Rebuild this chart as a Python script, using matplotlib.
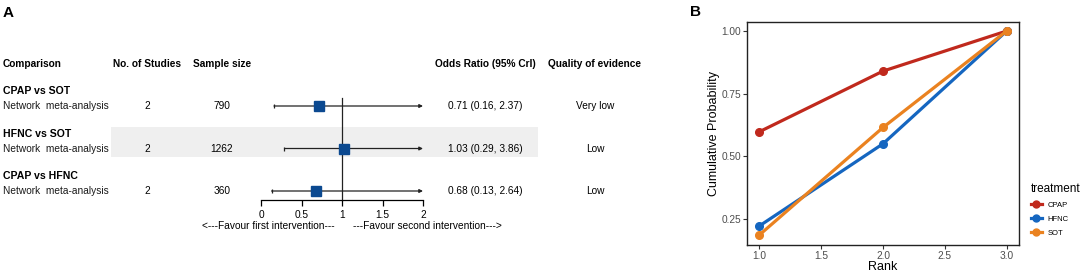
import matplotlib
matplotlib.use("Agg")
import matplotlib.pyplot as plt
from matplotlib.lines import Line2D
from matplotlib.transforms import blended_transform_factory

plt.rcParams['font.family'] = ['Liberation Sans', 'DejaVu Sans']

# panel A data
comparisons = ['CPAP vs SOT', 'HFNC vs SOT', 'CPAP vs HFNC']
n_studies = [2, 2, 2]
sample_size = [790, 1262, 360]
odds = [0.71, 1.03, 0.68]
lower = [0.16, 0.29, 0.13]
upper = [2.37, 3.86, 2.64]
quality = ['Very low', 'Low', 'Low']
or_ticks = [0, 0.5, 1, 1.5, 2]
or_ticklabels = ['0', '0.5', '1', '1.5', '2']

# panel B data
ranks = [1, 2, 3]
cum_prob = {
    'CPAP': [0.598, 0.84, 1.00],
    'HFNC': [0.222, 0.55, 1.00],
    'SOT': [0.186, 0.615, 1.00],
}
colors = {'CPAP': '#C0291D', 'HFNC': '#1566C0', 'SOT': '#EA8220'}

W, H = 1084, 273
fig = plt.figure(figsize=(W / 100, H / 100), dpi=100)

# rows: k=0,1,2 at pixel y 106 + 42.5k
step = 42.5
y0 = 106
ylim = ((H - y0) / step, -y0 / step)

# background axes for panel A (text, band)
ax_bg = fig.add_axes([0, 0, 540 / W, 1])
ax_bg.set_xlim(0, 540)
ax_bg.set_ylim(*ylim)
ax_bg.axis('off')

# forest axes
fx0, fx1 = 261, 423
ax = fig.add_axes([fx0 / W, 0, (fx1 - fx0) / W, 1])
ax.set_xlim(0, 2)
ax.set_ylim(*ylim)
ax.patch.set_alpha(0)

fs = 7.3
hdr_k = -1.0
ax_bg.text(3, hdr_k, 'Comparison', fontsize=fs, fontweight='bold', va='center', ha='left')
ax_bg.text(147, hdr_k, 'No. of Studies', fontsize=fs, fontweight='bold', va='center', ha='center')
ax_bg.text(222, hdr_k, 'Sample size', fontsize=fs, fontweight='bold', va='center', ha='center')
ax_bg.text(485, hdr_k, 'Odds Ratio (95% Crl)', fontsize=fs, fontweight='bold', va='center', ha='center')
ax_bg.text(595, hdr_k, 'Quality of evidence', fontsize=fs, fontweight='bold', va='center', ha='center',
           clip_on=False)

for k, comp in enumerate(comparisons):
    if k == 1:
        ax_bg.axhspan(k - 22 / step, k + 8 / step, xmin=111 / 540, xmax=538 / 540,
                      color='#EFEFEF', lw=0, zorder=0)
    ax_bg.text(3, k - 15 / step, comp, fontsize=fs + 0.3, fontweight='bold', va='center')
    ax_bg.text(3, k, 'Network  meta-analysis', fontsize=fs, va='center', color='#1a1a1a')
    ax_bg.text(147, k, str(n_studies[k]), fontsize=fs, va='center', ha='center')
    ax_bg.text(222, k, str(sample_size[k]), fontsize=fs, va='center', ha='center')
    ax_bg.text(485, k, f'{odds[k]:.2f} ({lower[k]:.2f}, {upper[k]:.2f})', fontsize=fs,
               va='center', ha='center')
    ax_bg.text(595, k, quality[k], fontsize=fs, va='center', ha='center', clip_on=False)

    hi = min(upper[k], 2)
    if upper[k] > 2:
        ax.annotate('', xy=(hi, k), xytext=(lower[k], k),
                    arrowprops=dict(arrowstyle='-|>', lw=0.9, color='#222222',
                                    mutation_scale=5, shrinkA=0, shrinkB=0))
    else:
        ax.plot([lower[k], hi], [k, k], color='#222222', lw=0.9)
        ax.plot(hi, k, marker='|', ms=3, color='#222222')
    ax.plot(lower[k], k, marker='|', ms=3, color='#222222', mew=0.9)
    ax.plot(odds[k], k, marker='s', ms=6.5, color='#0B4990', zorder=5)

axis_k = (200 - y0) / step
ax.plot([1, 1], [-8 / step, axis_k], color='#222222', lw=0.9, zorder=1)
for s in ['top', 'right', 'left']:
    ax.spines[s].set_visible(False)
ax.spines['bottom'].set_position(('data', axis_k))
ax.spines['bottom'].set_linewidth(0.9)
ax.set_yticks([])
ax.set_xticks(or_ticks)
ax.set_xticklabels(or_ticklabels, fontsize=fs)
ax.tick_params(axis='x', length=4, width=0.9, pad=3)

fav_k = (226 - y0) / step
tr = blended_transform_factory(ax.transData, ax_bg.transData)
ax_bg.text(0.91, fav_k, '<---Favour first intervention---', transform=tr, fontsize=fs,
           ha='right', va='center')
ax_bg.text(1.13, fav_k, '---Favour second intervention--->', transform=tr, fontsize=fs,
           ha='left', va='center')

fig.text(3 / W, 1 - 13 / H, 'A', fontsize=11, fontweight='bold', va='center', ha='left')
fig.text(690 / W, 1 - 12 / H, 'B', fontsize=11, fontweight='bold', va='center', ha='left')

# panel B
bx = fig.add_axes([747 / W, (H - 245) / H, 272 / W, 223 / H])
for name, vals in cum_prob.items():
    bx.plot(ranks, vals, color=colors[name], lw=2.3, marker='o', ms=5.5, label=name)
bx.set_xlim(0.9, 3.1)
bx.set_ylim(0.146, 1.036)
bx.set_xticks([1.0, 1.5, 2.0, 2.5, 3.0])
bx.set_xticklabels(['1.0', '1.5', '2.0', '2.5', '3.0'])
bx.set_yticks([0.25, 0.5, 0.75, 1.0])
bx.set_yticklabels(['0.25', '0.50', '0.75', '1.00'])
bx.tick_params(labelsize=fs, colors='#333333', labelcolor='#4D4D4D', length=3, width=0.8, pad=1.5)
for s in bx.spines.values():
    s.set_linewidth(1.0)
    s.set_color('#222222')
bx.set_xlabel('Rank', fontsize=9, labelpad=0)
bx.set_ylabel('Cumulative Probability', fontsize=9, labelpad=1)

handles = [Line2D([0], [0], color=colors[n], lw=2.3, marker='o', ms=5) for n in cum_prob]
leg = fig.legend(handles, list(cum_prob.keys()), title='treatment', loc='upper left',
                 bbox_to_anchor=(1031 / W, 1 - 183 / H), frameon=False, fontsize=5.5,
                 title_fontsize=8.5, handlelength=1.4, handletextpad=0.8, labelspacing=0.85,
                 borderaxespad=0, borderpad=0)
leg._legend_box.align = 'left'

fig.savefig('out.png', dpi=100)
